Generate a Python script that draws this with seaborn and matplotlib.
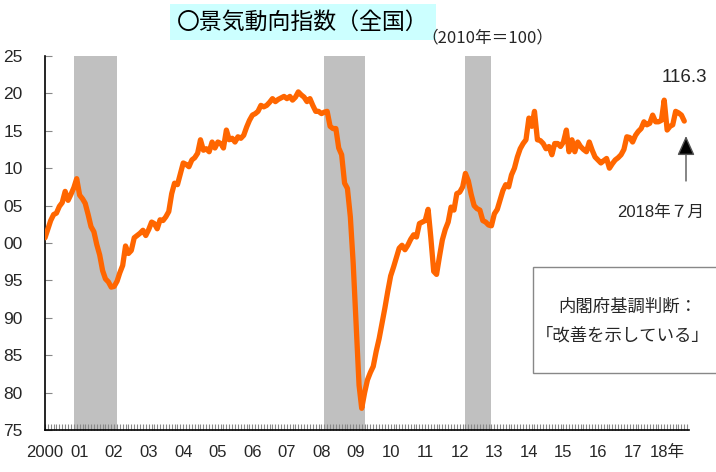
import matplotlib
matplotlib.use("Agg")
import numpy as np
import pandas as pd
import matplotlib.pyplot as plt
import matplotlib.dates as mdates
import seaborn as sns
from matplotlib.patches import Rectangle

# ---- data -------------------------------------------------------------
start_month = "2000-01"
ci_values = [
    # 2000
    100.7, 101.9, 103.0, 103.8, 104.0, 104.9, 105.4, 106.9, 105.7, 106.5, 107.4, 108.6,
    # 2001
    106.4, 105.9, 105.3, 103.8, 102.2, 101.5, 99.8, 98.4, 96.3, 95.2, 94.8, 94.1,
    # 2002
    94.2, 94.9, 96.0, 97.0, 99.6, 98.6, 99.0, 100.7, 101.0, 101.3, 101.7, 101.0,
    # 2003
    101.8, 102.8, 102.6, 101.9, 103.1, 103.0, 103.5, 104.2, 106.6, 108.0, 107.8, 109.2,
    # 2004
    110.7, 110.5, 110.2, 111.1, 111.4, 112.0, 113.8, 112.4, 112.6, 112.2, 113.5, 112.7,
    # 2005
    113.5, 113.3, 112.7, 115.1, 113.8, 114.0, 113.5, 114.2, 114.0, 114.4, 115.5, 116.4,
    # 2006
    117.1, 117.3, 117.6, 118.4, 118.2, 118.4, 118.8, 119.3, 118.9, 119.2, 119.4, 119.6,
    # 2007
    119.3, 119.6, 119.1, 119.5, 120.2, 119.8, 119.5, 118.9, 119.3, 118.4, 117.6, 117.6,
    # 2008
    117.3, 117.5, 117.6, 115.6, 115.3, 115.3, 112.7, 111.8, 108.0, 107.3, 103.5, 97.3,
    # 2009
    89.3, 81.0, 77.9, 80.0, 81.7, 82.7, 83.5, 85.5, 87.2, 89.2, 91.3, 93.5,
    # 2010
    95.6, 96.8, 98.0, 99.3, 99.7, 99.1, 99.7, 100.5, 101.1, 100.8, 102.6, 102.8,
    # 2011
    103.0, 104.5, 100.8, 96.2, 95.8, 98.2, 100.4, 101.8, 102.8, 104.8, 104.4, 106.6,
    # 2012
    106.8, 107.5, 109.3, 108.3, 106.5, 105.0, 104.6, 104.4, 103.0, 102.8, 102.4, 102.3,
    # 2013
    103.9, 104.5, 105.7, 107.0, 107.8, 107.5, 109.1, 110.0, 111.5, 112.6, 113.3, 113.8,
    # 2014
    116.7, 115.6, 117.6, 113.8, 113.7, 113.3, 112.6, 112.9, 111.8, 113.3, 113.3, 112.9,
    # 2015
    113.5, 115.1, 112.2, 113.8, 112.2, 113.5, 112.9, 112.5, 112.2, 113.5, 112.4, 111.5,
    # 2016
    111.1, 110.7, 111.0, 111.3, 110.0, 110.6, 111.1, 111.4, 111.8, 112.5, 114.2, 114.1,
    # 2017
    113.5, 114.4, 114.9, 115.3, 116.2, 115.8, 116.0, 117.1, 116.2, 116.2, 116.4, 119.1,
    # 2018
    115.1, 115.6, 115.8, 117.6, 117.4, 117.1, 116.3,
]
recessions = [("2000-11-01", "2002-02-01"),
              ("2008-02-01", "2009-04-01"),
              ("2012-03-01", "2012-12-01")]
year_labels = ["2000", "01", "02", "03", "04", "05", "06", "07", "08", "09",
               "10", "11", "12", "13", "14", "15", "16", "17", "18年"]
ytick_values = [75, 80, 85, 90, 95, 100, 105, 110, 115, 120, 125]
ytick_labels = ["75", "80", "85", "90", "95", "00", "05", "10", "15", "20", "25"]

title_text = "〇景気動向指数（全国）"
base_text = "（2010年＝100）"
latest_label = "2018年７月"
judgement_lines = ["内閣府基調判断：", "「改善を示している」"]

# ---- figure -----------------------------------------------------------
sns.set_theme(style="white")
plt.rcParams['font.family'] = ['Liberation Sans', 'Noto Sans CJK JP', 'DejaVu Sans']

W, H = 716, 472
fig = plt.figure(figsize=(W / 100, H / 100), dpi=100)
ax = fig.add_axes([45 / W, 1 - 430 / H, (689 - 45) / W, (430 - 56) / H])

dates = pd.date_range(start_month, periods=len(ci_values), freq="MS")
df = pd.DataFrame({"date": dates, "ci": ci_values})

for s, e in recessions:
    ax.axvspan(pd.Timestamp(s), pd.Timestamp(e), color="#C0C0C0", lw=0, zorder=0)

sns.lineplot(data=df, x="date", y="ci", color="#FF6600", lw=3.8, ax=ax,
             zorder=3, solid_joinstyle="round", solid_capstyle="round")

ax.set_xlim(pd.Timestamp("2000-01-01"), pd.Timestamp("2018-08-20"))
ax.set_ylim(75, 125)
ax.set_xlabel("")
ax.set_ylabel("")

year_ticks = pd.date_range("2000-01-01", periods=len(year_labels), freq="YS")
ax.set_xticks(year_ticks)
ax.set_xticklabels(year_labels)
ax.xaxis.set_minor_locator(mdates.MonthLocator())
ax.set_yticks(ytick_values)
ax.set_yticklabels(ytick_labels)

ax.tick_params(axis="x", which="both", direction="in", length=4, width=0.8,
               color="#888888", labelsize=12, pad=11, bottom=True)
ax.tick_params(axis="y", which="major", direction="in", length=5, width=0.8,
               color="#888888", labelsize=12.5, pad=16, left=True)
for sp in ["top", "right"]:
    ax.spines[sp].set_visible(False)
for sp in ["left", "bottom"]:
    ax.spines[sp].set_color("black")
    ax.spines[sp].set_linewidth(1.2)

# ---- texts ------------------------------------------------------------
fig.text(303 / W, 1 - 22 / H, title_text, ha="center", va="center", fontsize=16.5,
         family=['Noto Sans CJK JP', 'DejaVu Sans'], color="black",
         bbox=dict(boxstyle="square,pad=0.3", fc="#CCFFFF", ec="none"))
fig.text(487 / W, 1 - 38 / H, base_text, ha="center", va="center", fontsize=12,
         family=['Noto Sans CJK JP', 'DejaVu Sans'])

fig.text(684 / W, 1 - 77 / H, f"{ci_values[-1]:.1f}", ha="center", va="center",
         fontsize=13.5)
fig.text(661 / W, 1 - 212 / H, latest_label, ha="center", va="center", fontsize=12,
         family=['Liberation Sans', 'Noto Sans CJK JP'])

ax.annotate("", xy=(686, H - 136), xycoords="figure pixels",
            xytext=(686, H - 181), textcoords="figure pixels",
            arrowprops=dict(arrowstyle="-|>,head_width=0.45,head_length=1.0",
                            fc="black", ec="#555555", lw=1.0,
                            shrinkA=0, shrinkB=0),
            annotation_clip=False)

rect = Rectangle((533 / W, 1 - 373 / H), 0.3, (373 - 267) / H,
                 transform=fig.transFigure, fc="white", ec="#888888", lw=1.0,
                 clip_on=False)
fig.patches.append(rect)
fig.text(628 / W, 1 - 307 / H, judgement_lines[0], ha="center", va="center",
         fontsize=12.5, family=['Noto Sans CJK JP', 'DejaVu Sans'])
fig.text(623 / W, 1 - 336 / H, judgement_lines[1], ha="center", va="center",
         fontsize=12.5, family=['Noto Sans CJK JP', 'DejaVu Sans'])

fig.savefig("out.png", dpi=100, facecolor="white")
